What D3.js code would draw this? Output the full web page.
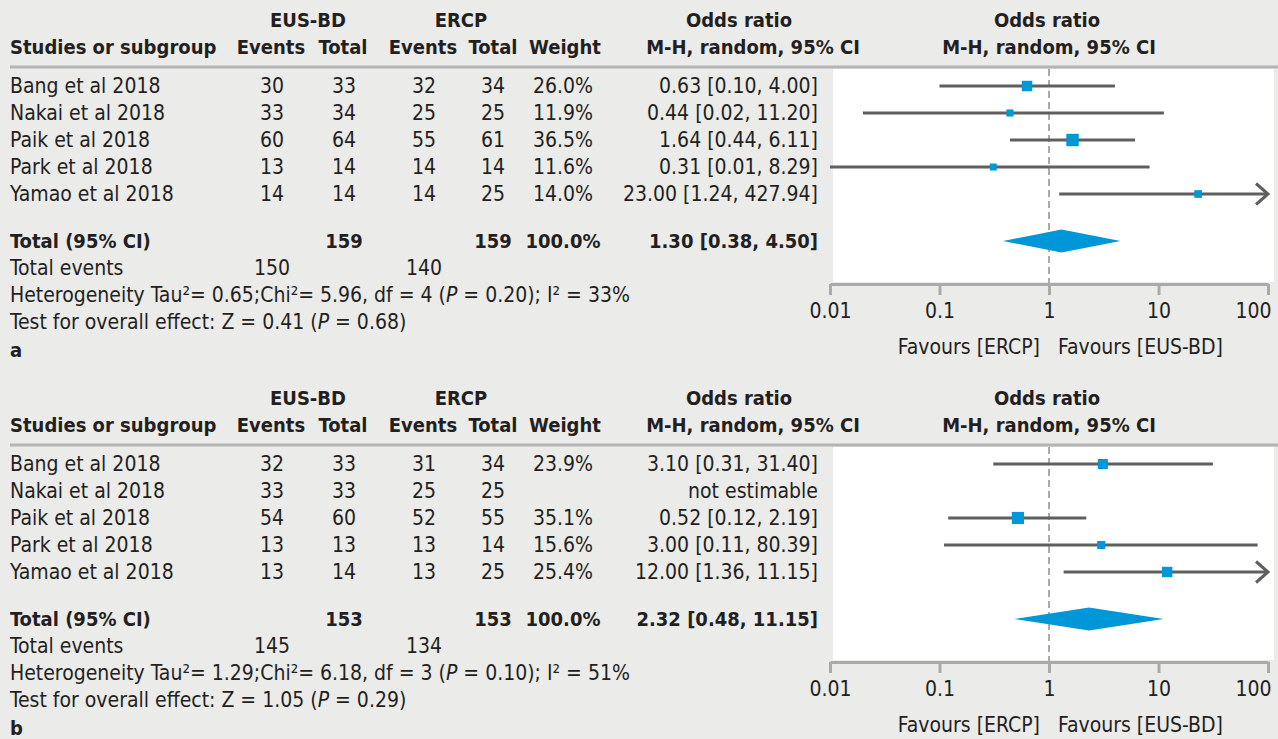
<!DOCTYPE html>
<html>
<head>
<meta charset="utf-8">
<script src="https://cdn.jsdelivr.net/npm/d3@7"></script>
<style>
  body { margin: 0; background: #ebebea; }
  text { font-family: "DejaVu Sans Condensed", "Liberation Sans", sans-serif; fill: #231f20; }
</style>
</head>
<body>
<script>
const w = 1278;
const h = 739;

// studies (same in both panels)
const studies = ["Bang et al 2018", "Nakai et al 2018", "Paik et al 2018", "Park et al 2018", "Yamao et al 2018"];
const ticks = [0.01, 0.1, 1, 10, 100];

// panel a
const aEusEvents = [30, 33, 60, 13, 14];
const aEusTotal = [33, 34, 64, 14, 14];
const aErcpEvents = [32, 25, 55, 14, 14];
const aErcpTotal = [34, 25, 61, 14, 25];
const aWeight = [26.0, 11.9, 36.5, 11.6, 14.0];
const aOR = [0.63, 0.44, 1.64, 0.31, 23.00];
const aLow = [0.10, 0.02, 0.44, 0.01, 1.24];
const aHigh = [4.00, 11.20, 6.11, 8.29, 427.94];
const aLabels = ["0.63 [0.10, 4.00]", "0.44 [0.02, 11.20]", "1.64 [0.44, 6.11]", "0.31 [0.01, 8.29]", "23.00 [1.24, 427.94]"];
const aPooled = [1.30, 0.38, 4.50];
const aPooledLabel = "1.30 [0.38, 4.50]";
const aTotals = [159, 159];
const aTotalEvents = [150, 140];
const aHet = [["Heterogeneity Tau²= 0.65;Chi²= 5.96, df = 4 (", 0], ["P", 1], [" = 0.20); I² = 33%", 0]];
const aTest = [["Test for overall effect: Z = 0.41 (", 0], ["P", 1], [" = 0.68)", 0]];

// panel b
const bEusEvents = [32, 33, 54, 13, 13];
const bEusTotal = [33, 33, 60, 13, 14];
const bErcpEvents = [31, 25, 52, 13, 13];
const bErcpTotal = [34, 25, 55, 14, 25];
const bWeight = [23.9, null, 35.1, 15.6, 25.4];
const bOR = [3.10, null, 0.52, 3.00, 12.00];
const bLow = [0.31, null, 0.12, 0.11, 1.36];
const bHigh = [31.40, null, 2.19, 80.39, 106];  // Yamao drawn past 100 (arrow)
const bLabels = ["3.10 [0.31, 31.40]", "not estimable", "0.52 [0.12, 2.19]", "3.00 [0.11, 80.39]", "12.00 [1.36, 11.15]"];
const bPooled = [2.32, 0.48, 11.15];
const bPooledLabel = "2.32 [0.48, 11.15]";
const bTotals = [153, 153];
const bTotalEvents = [145, 134];
const bHet = [["Heterogeneity Tau²= 1.29;Chi²= 6.18, df = 3 (", 0], ["P", 1], [" = 0.10); I² = 51%", 0]];
const bTest = [["Test for overall effect: Z = 1.05 (", 0], ["P", 1], [" = 0.29)", 0]];

const blue = "#0097d8";
const fs = 21;
const fsBold = 20;

const svg = d3.select("body")
  .append("svg")
  .attr("width", w)
  .attr("height", h);

svg.append("rect").attr("width", w).attr("height", h).attr("fill", "#ebebea");

const xScale = d3.scaleLog().domain([0.01, 100]).range([830, 1268]);
const sizeScale = d3.scaleSqrt().domain([0, 40]).range([0, 13]);
const rowY = d3.scaleLinear().domain([0, 1]).range([86, 113]);
const cols = { eusEv: 272, eusTot: 344, ercpEv: 424, ercpTot: 493, weight: 563, or: 818 };

function txt(g, x, y, s, anchor, bold) {
  return g.append("text")
    .attr("x", x).attr("y", y).attr("dy", "0.35em")
    .attr("text-anchor", anchor || "start")
    .attr("font-size", bold ? fsBold : fs)
    .attr("font-weight", bold ? "bold" : "normal")
    .text(s);
}

function richTxt(g, x, y, parts) {
  const t = g.append("text").attr("x", x).attr("y", y).attr("dy", "0.35em").attr("font-size", fs);
  parts.forEach(p => t.append("tspan").attr("font-style", p[1] ? "italic" : "normal").text(p[0]));
}

function drawPanel(offset, p) {
  const g = svg.append("g").attr("transform", "translate(0," + offset + ")");

  // header
  txt(g, 308, 20, "EUS-BD", "middle", true);
  txt(g, 461, 20, "ERCP", "middle", true);
  txt(g, 739, 20, "Odds ratio", "middle", true);
  txt(g, 1047, 20, "Odds ratio", "middle", true);
  txt(g, 10, 47, "Studies or subgroup", "start", true);
  txt(g, 271, 47, "Events", "middle", true);
  txt(g, 343, 47, "Total", "middle", true);
  txt(g, 423, 47, "Events", "middle", true);
  txt(g, 493, 47, "Total", "middle", true);
  txt(g, 565, 47, "Weight", "middle", true);
  txt(g, 753, 47, "M-H, random, 95% CI", "middle", true);
  txt(g, 1049, 47, "M-H, random, 95% CI", "middle", true);

  g.append("line").attr("x1", 10).attr("x2", w).attr("y1", 67).attr("y2", 67)
    .attr("stroke", "#b4b4b4").attr("stroke-width", 3);

  // plot area
  g.append("rect").attr("x", 833).attr("y", 69).attr("width", 441).attr("height", 213).attr("fill", "#fff");
  g.append("line").attr("x1", xScale(1)).attr("x2", xScale(1)).attr("y1", 69).attr("y2", 284)
    .attr("stroke", "#aaa").attr("stroke-width", 2).attr("stroke-dasharray", "7,4");

  // rows
  studies.forEach((s, i) => {
    const y = rowY(i);
    txt(g, 10, y, s);
    txt(g, cols.eusEv, y, p.eusEv[i], "middle");
    txt(g, cols.eusTot, y, p.eusTot[i], "middle");
    txt(g, cols.ercpEv, y, p.ercpEv[i], "middle");
    txt(g, cols.ercpTot, y, p.ercpTot[i], "middle");
    if (p.weight[i] != null) txt(g, cols.weight, y, p.weight[i].toFixed(1) + "%", "middle");
    txt(g, cols.or, y, p.labels[i], "end");

    if (p.or[i] == null) return;
    const [d0, d1] = xScale.domain();
    const lo = Math.max(p.low[i], d0), hi = Math.min(p.high[i], d1);
    g.append("line").attr("x1", xScale(lo)).attr("x2", xScale(hi)).attr("y1", y).attr("y2", y)
      .attr("stroke", "#5f5f5f").attr("stroke-width", 3);
    if (p.high[i] > d1) {
      const xe = xScale(d1);
      g.append("path").attr("d", `M${xe - 12},${y - 10.5}L${xe},${y}L${xe - 12},${y + 10.5}`)
        .attr("fill", "none").attr("stroke", "#5f5f5f").attr("stroke-width", 3);
    }
    const s2 = sizeScale(p.weight[i]);
    g.append("rect").attr("x", xScale(p.or[i]) - s2 / 2).attr("y", y - s2 / 2)
      .attr("width", s2).attr("height", s2).attr("fill", blue);
  });

  // totals
  const ty = 241;
  txt(g, 10, ty, "Total (95% CI)", "start", true);
  txt(g, cols.eusTot, ty, p.totals[0], "middle", true);
  txt(g, cols.ercpTot, ty, p.totals[1], "middle", true);
  txt(g, cols.weight, ty, "100.0%", "middle", true);
  txt(g, cols.or, ty, p.pooledLabel, "end", true);
  g.append("path")
    .attr("d", `M${xScale(p.pooled[1])},${ty}L${xScale(p.pooled[0])},${ty - 11.5}L${xScale(p.pooled[2])},${ty}L${xScale(p.pooled[0])},${ty + 11.5}Z`)
    .attr("fill", blue);

  txt(g, 10, 268, "Total events");
  txt(g, cols.eusEv, 268, p.totalEvents[0], "middle");
  txt(g, cols.ercpEv, 268, p.totalEvents[1], "middle");
  richTxt(g, 10, 295, p.het);
  richTxt(g, 10, 322, p.test);
  txt(g, 10, 350, p.tag, "start", true);

  // axis
  const xAxis = d3.axisBottom(xScale).tickValues(ticks).tickFormat(d3.format("~g"))
    .tickSizeInner(11).tickSizeOuter(0).tickPadding(8);
  const ax = g.append("g").attr("transform", "translate(0,284)").call(xAxis);
  ax.select(".domain").attr("stroke", "#aaa").attr("stroke-width", 3);
  ax.selectAll(".tick line").attr("stroke", "#aaa").attr("stroke-width", 3);
  ax.selectAll(".tick text").attr("font-size", fs).attr("font-family", null).attr("fill", "#231f20");
  ax.selectAll(".tick").filter(d => d === 100).select("text")
    .attr("text-anchor", "end").attr("x", 3);

  txt(g, 1040, 347, "Favours [ERCP]", "end");
  txt(g, 1058, 347, "Favours [EUS-BD]", "start");
}

drawPanel(0, {
  eusEv: aEusEvents, eusTot: aEusTotal, ercpEv: aErcpEvents, ercpTot: aErcpTotal,
  weight: aWeight, or: aOR, low: aLow, high: aHigh, labels: aLabels,
  pooled: aPooled, pooledLabel: aPooledLabel, totals: aTotals, totalEvents: aTotalEvents,
  het: aHet, test: aTest, tag: "a"
});
drawPanel(378, {
  eusEv: bEusEvents, eusTot: bEusTotal, ercpEv: bErcpEvents, ercpTot: bErcpTotal,
  weight: bWeight, or: bOR, low: bLow, high: bHigh, labels: bLabels,
  pooled: bPooled, pooledLabel: bPooledLabel, totals: bTotals, totalEvents: bTotalEvents,
  het: bHet, test: bTest, tag: "b"
});
</script>
</body>
</html>
